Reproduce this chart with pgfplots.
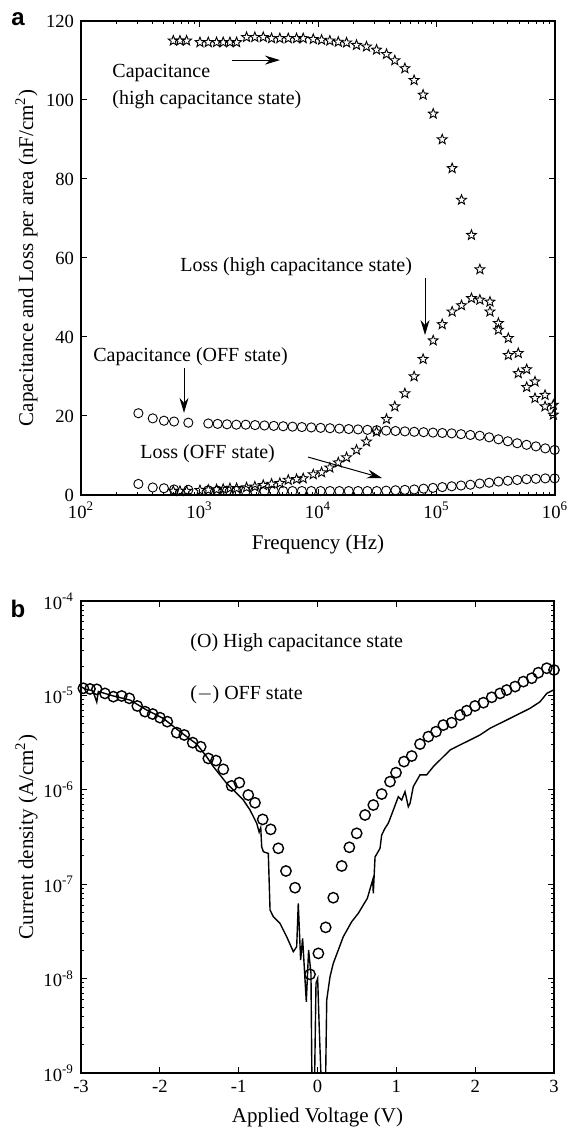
\documentclass[border=0pt]{standalone}
\usepackage{pgfplots}
\pgfplotsset{compat=1.18}
\usepackage{fontspec}
\setmainfont{Liberation Serif}
\setsansfont{Liberation Sans}
\usetikzlibrary{arrows.meta}

% open five-pointed star
\pgfdeclareplotmark{ostar}{%
  \pgfpathmoveto{\pgfpointpolar{90}{\pgfplotmarksize}}%
  \pgfpathlineto{\pgfpointpolar{126}{0.42\pgfplotmarksize}}%
  \pgfpathlineto{\pgfpointpolar{162}{\pgfplotmarksize}}%
  \pgfpathlineto{\pgfpointpolar{198}{0.42\pgfplotmarksize}}%
  \pgfpathlineto{\pgfpointpolar{234}{\pgfplotmarksize}}%
  \pgfpathlineto{\pgfpointpolar{270}{0.42\pgfplotmarksize}}%
  \pgfpathlineto{\pgfpointpolar{306}{\pgfplotmarksize}}%
  \pgfpathlineto{\pgfpointpolar{342}{0.42\pgfplotmarksize}}%
  \pgfpathlineto{\pgfpointpolar{18}{\pgfplotmarksize}}%
  \pgfpathlineto{\pgfpointpolar{54}{0.42\pgfplotmarksize}}%
  \pgfpathclose
  \pgfusepathqstroke
}

\pgfplotsset{
  panel/.style={
    scale only axis,
    clip mode=individual,
    tick align=inside,
    major tick length=2.8pt, minor tick length=1.5pt,
    tick style={line width=0.5pt, black},
    axis line style={line width=0.7pt},
    tick label style={font=\fontsize{9.3}{11}\selectfont},
    label style={font=\fontsize{10.5}{12}\selectfont},
    /pgf/number format/assume math mode=true,
    ylabel style={at={(axis description cs:-0.115,0.5)}, anchor=center},
  },
}
\tikzset{
  note/.style={font=\fontsize{10}{13.5}\selectfont, anchor=west, inner sep=0pt, align=left},
  arr/.style={-{Stealth[length=7.5pt,width=4.5pt,inset=2.5pt]}, line width=0.5pt},
}

\begin{document}
\begin{tikzpicture}
% ---------------- panel a ----------------
\begin{axis}[panel,
  at={(40.5pt,317pt)}, anchor=south west, width=237pt, height=237pt,
  xmode=log, xmin=1e2, xmax=1e6, ymin=0, ymax=120,
  xtick={1e2,1e3,1e4,1e5,1e6},
  xticklabels={10\textsuperscript{2},10\textsuperscript{3},10\textsuperscript{4},10\textsuperscript{5},10\textsuperscript{6}},
  ytick={0,20,40,60,80,100,120},
  xlabel={Frequency (Hz)},
  ylabel={Capacitance and Loss per area (nF/cm\textsuperscript{2})},
  xlabel style={at={(axis description cs:0.5,-0.105)}, anchor=center},
]
% capacitance, high capacitance state
\addplot[only marks, mark=ostar, mark size=2.6pt, mark options={line width=0.45pt}] coordinates {
(601,115.0) (684,115.0) (778,115.0) (1009,114.6) (1186,114.6) (1393,114.6) (1585,114.6) (1807,114.6) (2056,114.6)
(2495,115.9) (2931,115.9) (3451,115.9) (4055,115.6) (4764,115.6) (5610,115.6) (6592,115.6) (7499,115.6) (9120,115.4)
(10720,115.2) (12590,115.0) (14830,114.7) (17420,114.5) (21130,113.9) (25650,113.5) (31190,112.7) (37840,111.6)
(44460,110.0) (54080,108.0) (64710,105.0) (77090,101.3) (93760,96.5) (111700,90.0) (135500,82.7) (162600,74.7)
(197200,65.8) (232300,57.1) (282500,46.4) (332700,41.8) (403600,35.4) (489800,30.8) (576800,27.3) (677600,24.5)
(824100,22.4) (968300,20.3)};
% loss, high capacitance state
\addplot[only marks, mark=ostar, mark size=2.6pt, mark options={line width=0.45pt}] coordinates {
(601,1.0) (684,1.0) (778,1.0) (1009,1.2) (1186,1.3) (1393,1.4) (1585,1.5) (1807,1.7) (2056,1.7) (2495,1.9) (2931,2.1)
(3451,2.5) (4055,2.8) (4764,3.0) (5610,3.8) (6592,4.0) (7499,4.2) (9120,5.2) (10720,5.7) (12590,6.9) (14830,8.2)
(17420,9.5) (21130,11.4) (25650,13.5) (31190,16.0) (37840,19.2) (44460,22.4) (54080,25.7) (64710,30.0) (77090,34.4)
(93760,39.1) (111700,43.2) (135500,46.4) (162600,48.0) (197200,49.8) (232300,49.4) (282500,48.9) (332700,43.5)
(403600,39.7) (489800,35.9) (576800,31.8) (677600,28.7) (824100,25.3) (968300,22.8)};
% capacitance, OFF state
\addplot[only marks, mark=o, mark size=2.3pt, mark options={line width=0.45pt}] coordinates {
(305,20.7) (403,19.4) (501,18.8) (610,18.6) (805,18.3) (1186,18.1) (1422,18.0) (1706,17.9) (2046,17.8) (2455,17.8)
(2944,17.7) (3532,17.6) (4236,17.5) (5082,17.4) (6095,17.3) (7311,17.2) (8770,17.1) (10520,17.0) (12620,16.9)
(15140,16.8) (18160,16.7) (21780,16.6) (26120,16.5) (31330,16.4) (37580,16.3) (45080,16.2) (54080,16.1) (64860,16.0)
(77800,15.9) (93330,15.8) (111900,15.7) (134300,15.6) (161100,15.4) (193200,15.2) (231700,15.0) (278000,14.6)
(333400,14.1) (399900,13.6) (479700,13.1) (575400,12.7) (690200,12.3) (827900,11.8) (993100,11.4)};
% loss, OFF state
\addplot[only marks, mark=o, mark size=2.3pt, mark options={line width=0.45pt}] coordinates {
(305,2.8) (403,1.9) (501,1.7) (610,1.4) (805,1.3) (1186,1.2) (1422,1.1) (1706,1.1) (2046,1.0) (2455,1.0) (2944,1.0)
(3532,1.0) (4236,1.0) (5082,1.0) (6095,1.0) (7311,1.0) (8770,1.0) (10520,1.0) (12620,1.0) (15140,1.0) (18160,1.0)
(21780,1.0) (26120,1.0) (31330,1.0) (37580,1.1) (45080,1.2) (54080,1.3) (64860,1.4) (77800,1.6) (93330,1.8)
(111900,2.0) (134300,2.2) (161100,2.4) (193200,2.6) (231700,2.9) (278000,3.1) (333400,3.4) (399900,3.6)
(479700,3.8) (575400,4.0) (690200,4.1) (827900,4.2) (993100,4.2)};

\node[note] at (axis cs:183,103.4) {Capacitance\\(high capacitance state)};
\draw[arr] (axis cs:1879,110.1) -- (axis cs:4775,110.1);
\node[note] at (axis cs:684,57.7) {Loss (high capacitance state)};
\draw[arr] (axis cs:80000,54.9) -- (axis cs:80000,40.5);
\node[note] at (axis cs:126,34.9) {Capacitance (OFF state)};
\draw[arr] (axis cs:740,32.2) -- (axis cs:740,20.8);
\node[note] at (axis cs:315,10.4) {Loss (OFF state)};
\draw[arr] (axis cs:8240,9.6) -- (axis cs:34700,4.3);
\end{axis}

% ---------------- panel b ----------------
\begin{axis}[panel,
  at={(40.5pt,28pt)}, anchor=south west, width=236.5pt, height=236pt,
  axis line style={line width=0.9pt},
  ymode=log, xmin=-3, xmax=3, ymin=1e-9, ymax=1e-4,
  xtick={-3,-2,-1,0,1,2,3},
  ytick={1e-9,1e-8,1e-7,1e-6,1e-5,1e-4},
  yticklabels={10\textsuperscript{-9},10\textsuperscript{-8},10\textsuperscript{-7},10\textsuperscript{-6},10\textsuperscript{-5},10\textsuperscript{-4}},
  minor ytick={2e-9,3e-9,4e-9,5e-9,6e-9,7e-9,8e-9,9e-9,2e-8,3e-8,4e-8,5e-8,6e-8,7e-8,8e-8,9e-8,
    2e-7,3e-7,4e-7,5e-7,6e-7,7e-7,8e-7,9e-7,2e-6,3e-6,4e-6,5e-6,6e-6,7e-6,8e-6,9e-6,
    2e-5,3e-5,4e-5,5e-5,6e-5,7e-5,8e-5,9e-5},
  xlabel={Applied Voltage (V)},
  ylabel={Current density (A/cm\textsuperscript{2})},
  xlabel style={at={(axis description cs:0.5,-0.095)}, anchor=center},
]
% OFF state
\addplot[black, line width=0.7pt, mark=none] coordinates {
(-3.0,1.24e-5) (-2.95,1.17e-5) (-2.85,1.12e-5) (-2.80,8.51e-6) (-2.78,1.10e-5) (-2.59,9.86e-6) (-2.378,8.93e-6)
(-2.167,7.00e-6) (-1.956,5.71e-6) (-1.744,4.13e-6) (-1.532,3.05e-6) (-1.406,2.24e-6) (-1.321,1.76e-6)
(-1.152,1.17e-6) (-1.025,9.18e-7) (-0.941,7.80e-7) (-0.856,6.11e-7) (-0.771,4.42e-7) (-0.74,3.55e-7)
(-0.72,3.98e-7) (-0.708,2.49e-7) (-0.687,2.21e-7) (-0.624,2.12e-7) (-0.602,5.33e-8) (-0.560,4.53e-8)
(-0.476,3.85e-8) (-0.391,2.78e-8) (-0.307,1.93e-8) (-0.264,2.18e-8) (-0.244,6.28e-8) (-0.214,1.57e-8)
(-0.189,2.67e-8) (-0.142,5.69e-9) (-0.113,2.01e-8) (-0.083,1.14e-8) (-0.066,3e-10) (-0.045,3e-10)
(-0.019,8.91e-9) (0.002,1.0e-8) (0.023,2.85e-9) (0.066,3e-10) (0.095,3e-10) (0.117,5.93e-9) (0.159,1.05e-8)
(0.200,1.45e-8) (0.264,2.01e-8) (0.327,2.78e-8) (0.434,4.01e-8) (0.518,4.92e-8) (0.581,6.03e-8) (0.632,7.08e-8)
(0.687,1.02e-7) (0.700,1.11e-7) (0.708,8.0e-8) (0.730,1.95e-7) (0.745,2.04e-7) (0.793,2.40e-7) (0.814,3.32e-7)
(0.856,3.91e-7) (0.898,4.42e-7) (0.962,6.11e-7) (1.025,8.45e-7) (1.068,7.80e-7) (1.110,9.55e-7) (1.152,6.62e-7)
(1.174,7.19e-7) (1.215,1.08e-6) (1.300,1.44e-6) (1.385,1.44e-6) (1.469,1.76e-6) (1.554,2.07e-6) (1.681,2.64e-6)
(1.808,2.99e-6) (1.935,3.37e-6) (2.061,3.81e-6) (2.188,4.48e-6) (2.315,5.06e-6) (2.442,5.71e-6) (2.569,6.46e-6)
(2.696,7.29e-6) (2.823,8.57e-6) (2.908,1.05e-5) (2.992,1.14e-5)};
% high capacitance state
\addplot[only marks, mark=o, mark size=2.6pt, mark options={line width=0.7pt}] coordinates {
(-2.97,1.19e-5) (-2.886,1.17e-5) (-2.80,1.16e-5) (-2.696,1.05e-5) (-2.59,9.70e-6) (-2.484,9.86e-6) (-2.387,9.31e-6)
(-2.286,7.73e-6) (-2.188,6.73e-6) (-2.091,6.35e-6) (-1.998,5.81e-6) (-1.905,5.27e-6) (-1.786,4.03e-6) (-1.690,3.81e-6)
(-1.583,3.16e-6) (-1.482,2.86e-6) (-1.385,2.15e-6) (-1.288,2.04e-6) (-1.195,1.65e-6) (-1.089,1.10e-6) (-0.992,1.19e-6)
(-0.878,8.81e-7) (-0.793,7.29e-7) (-0.695,4.86e-7) (-0.594,3.81e-7) (-0.497,2.40e-7) (-0.40,1.38e-7) (-0.285,9.18e-8)
(-0.095,1.11e-8) (0.011,1.85e-8) (0.104,3.49e-8) (0.200,7.19e-8) (0.307,1.56e-7) (0.404,2.46e-7) (0.497,3.46e-7)
(0.603,5.41e-7) (0.708,6.90e-7) (0.814,9.02e-7) (0.920,1.22e-6) (0.996,1.52e-6) (1.097,1.99e-6) (1.195,2.28e-6)
(1.300,3.05e-6) (1.406,3.66e-6) (1.503,4.13e-6) (1.596,4.85e-6) (1.702,5.14e-6) (1.808,6.19e-6) (1.893,6.89e-6)
(1.998,7.73e-6) (2.104,8.37e-6) (2.210,9.55e-6) (2.315,1.05e-5) (2.400,1.14e-5) (2.506,1.24e-5) (2.611,1.40e-5)
(2.717,1.52e-5) (2.801,1.74e-5) (2.908,1.94e-5) (3.0,1.86e-5)};

\node[note] at (axis cs:-1.617,3.59e-5) {(O) High capacitance state};
\node[note] at (axis cs:-1.617,1.01e-5) {($-$) OFF state};
\end{axis}

\node[font=\sffamily\bfseries\fontsize{12}{14}\selectfont] at (9pt,555pt) {a};
\node[font=\sffamily\bfseries\fontsize{12}{14}\selectfont] at (9pt,260pt) {b};

\pgfresetboundingbox
\path[use as bounding box] (0pt,0pt) rectangle (284.5pt,564.5pt);
\end{tikzpicture}
\end{document}
